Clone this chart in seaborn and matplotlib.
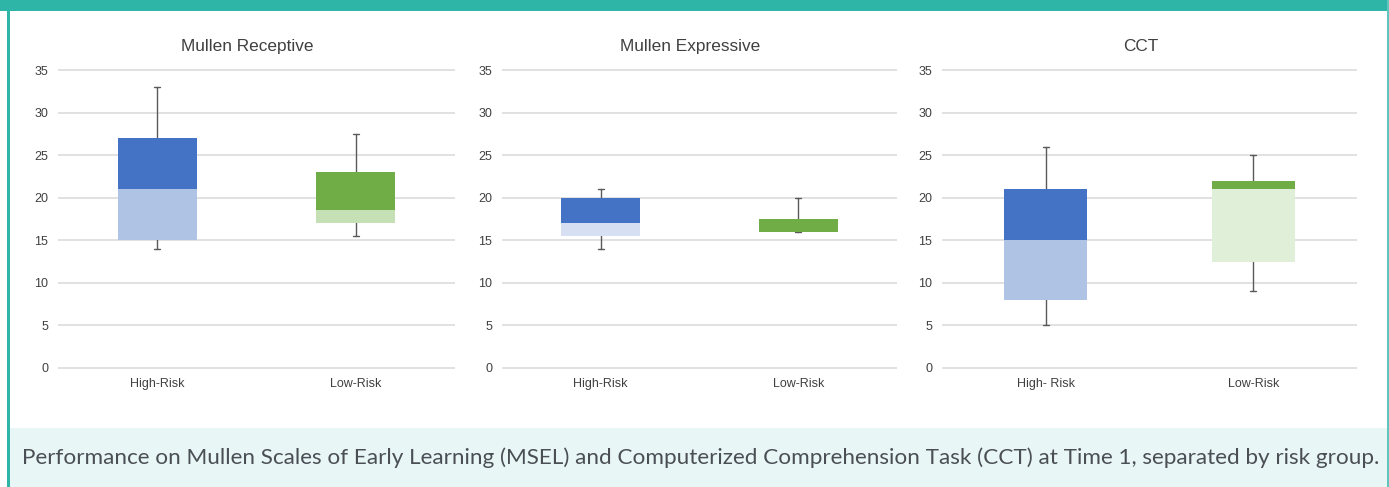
import matplotlib
matplotlib.use("Agg")
import matplotlib.pyplot as plt
from matplotlib.patches import Rectangle
import seaborn as sns

# Panels and groups
panel_titles = ["Mullen Receptive", "Mullen Expressive", "CCT"]
group_labels = [
    ["High-Risk", "Low-Risk"],
    ["High-Risk", "Low-Risk"],
    ["High- Risk", "Low-Risk"],
]

# Five-number summaries per panel: [High-Risk, Low-Risk]
whisker_low = [[14, 15.5], [14, 16], [5, 9]]
q1 = [[15, 17], [15.5, 16], [8, 12.5]]
median = [[21, 18.5], [17, 16], [15, 21]]
q3 = [[27, 23], [20, 17.5], [21, 22]]
whisker_high = [[33, 27.5], [21, 20], [26, 25]]

y_ticks = [0, 5, 10, 15, 20, 25, 30, 35]

caption = ("Performance on Mullen Scales of Early Learning (MSEL) and Computerized "
           "Comprehension Task (CCT) at Time 1, separated by risk group.")

# Colours: upper (median..q3) and lower (q1..median) segments
upper_colors = ["#4472c4", "#70ad47"]
lower_colors = [
    ["#afc3e4", "#c5e0b4"],
    ["#d6e0f2", "#c5e0b4"],
    ["#afc3e4", "#e0efd8"],
]

TEAL = "#2fb5a8"
TEXT = "#404040"


def span(v):
    return (min(v), max(v))


sns.set_theme(style="white")
plt.rcParams["font.family"] = ["Liberation Sans", "DejaVu Sans"]

W, H = 1389, 487
fig = plt.figure(figsize=(W / 100, H / 100), dpi=100)
fig.patch.set_facecolor("white")

# Frame: light caption band, teal top band and side rules
fig.patches.append(Rectangle((0, 0), 1, (H - 428) / H, transform=fig.transFigure,
                             facecolor="#e9f6f6", edgecolor="none", zorder=0))
fig.patches.append(Rectangle((0, 1 - 11 / H), 1, 11 / H, transform=fig.transFigure,
                             facecolor=TEAL, edgecolor="none", zorder=1))
fig.patches.append(Rectangle((0, 0), 7 / W, 1 - 11 / H, transform=fig.transFigure,
                             facecolor="white", edgecolor="none", zorder=1))
fig.patches.append(Rectangle((7 / W, 0), 3 / W, 1, transform=fig.transFigure,
                             facecolor=TEAL, edgecolor="none", zorder=1))
fig.patches.append(Rectangle((1387 / W, 0), 2 / W, 1, transform=fig.transFigure,
                             facecolor="#5ec6bc", edgecolor="none", zorder=1))

# Axes placement (left, width) in pixels
axes_px = [(58, 397), (502, 395), (942, 415)]
y_bottom_px, y_top_px = 376.5, 61.5

for i, (left, width) in enumerate(axes_px):
    ax = fig.add_axes([left / W, (H - y_bottom_px) / H, width / W,
                       (y_bottom_px - y_top_px) / H])
    ax.set_facecolor("none")
    cats = group_labels[i]
    for j, cat in enumerate(cats):
        # whisker from minimum to maximum
        sns.pointplot(x=[cat, cat], y=[whisker_low[i][j], whisker_high[i][j]],
                      order=cats, estimator="mean", errorbar=span,
                      marker="", linestyle="none", capsize=0.03,
                      color="#5a5a5a",
                      err_kws={"linewidth": 1.0, "zorder": 1.5}, ax=ax)
        # lower box segment: q1 .. median
        sns.barplot(x=[cat], y=[median[i][j] - q1[i][j]], order=cats,
                    bottom=q1[i][j], color=lower_colors[i][j], saturation=1,
                    width=0.4, errorbar=None, linewidth=0, zorder=2, ax=ax)
        # upper box segment: median .. q3
        sns.barplot(x=[cat], y=[q3[i][j] - median[i][j]], order=cats,
                    bottom=median[i][j], color=upper_colors[j], saturation=1,
                    width=0.4, errorbar=None, linewidth=0, zorder=2, ax=ax)

    ax.set_xlim(-0.5, 1.5)
    ax.set_ylim(-1, 36)
    ax.set_yticks(y_ticks)
    ax.set_yticklabels([str(t) for t in y_ticks])
    ax.set_xlabel("")
    ax.set_ylabel("")
    ax.set_axisbelow(True)
    ax.grid(axis="y", color="#dcdcdc", linewidth=1.2)
    ax.grid(axis="x", visible=False)
    for s in ax.spines.values():
        s.set_visible(False)
    ax.tick_params(axis="y", length=0, pad=7, labelsize=9, labelcolor=TEXT)
    ax.tick_params(axis="x", length=0, pad=1, labelsize=9, labelcolor=TEXT)
    ax.set_title(panel_titles[i], fontsize=12.4, color=TEXT, pad=7.5,
                 x=0.5 - 9 / width)

fig.text(701 / W, 1 - 458 / H, caption, ha="center", va="center",
         fontsize=16.2, color="#4a4f55", family=["Lato", "DejaVu Sans"])

fig.savefig("out.png", dpi=100, facecolor=fig.get_facecolor())
